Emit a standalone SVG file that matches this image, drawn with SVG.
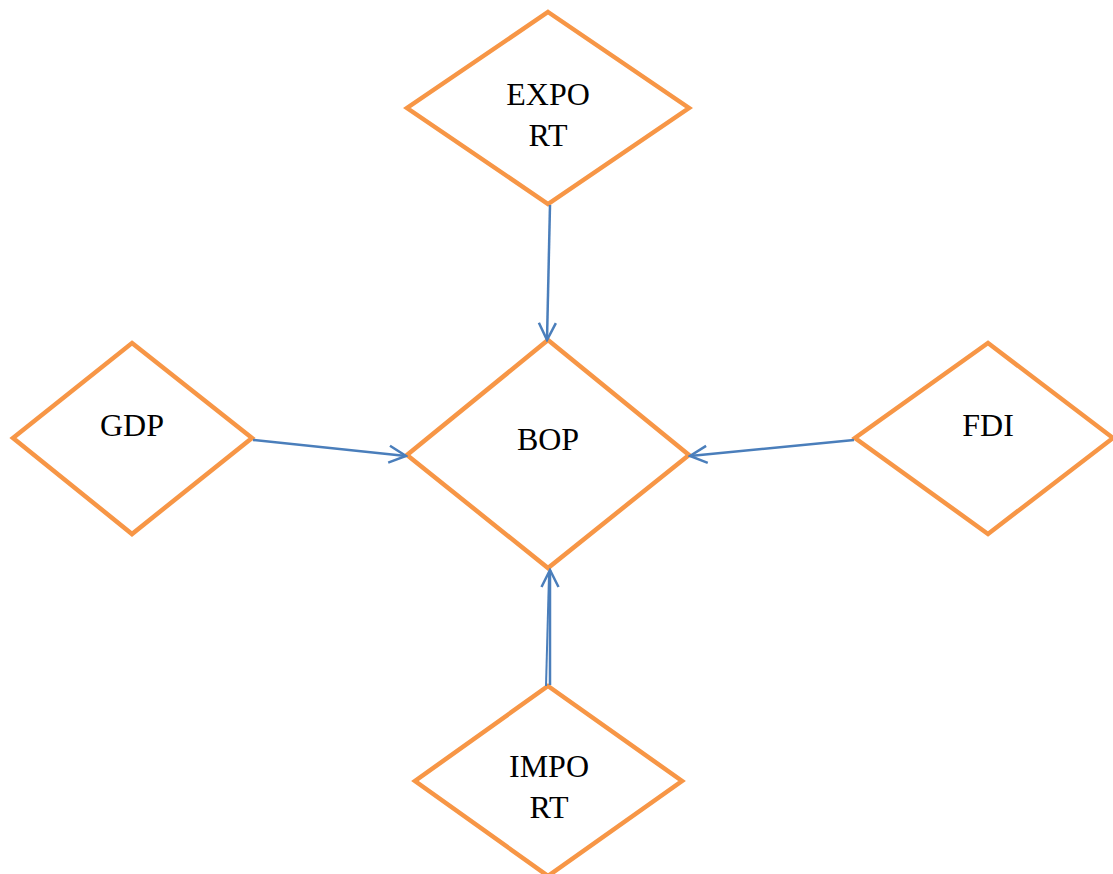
<svg xmlns="http://www.w3.org/2000/svg" width="1113" height="874" viewBox="0 0 1113 874">
  <style>
    .shape { fill: #FFFFFF; stroke: #F79646; stroke-width: 4.5; stroke-linejoin: miter; }
    .label { font-family: "Liberation Serif", "Times New Roman", serif; font-size: 32px; fill: #000000; text-anchor: middle; }
    .link { stroke: #4A7EBB; stroke-width: 2.5; fill: none; marker-end: url(#openArrow); }
  </style>
  <defs>
    <marker id="openArrow" viewBox="0 0 20 20" refX="18" refY="10" markerWidth="20" markerHeight="20" markerUnits="userSpaceOnUse" orient="auto">
      <path d="M1,1.5 L18,10 L1,18.5" fill="none" stroke="#4A7EBB" stroke-width="2.5"/>
    </marker>
  </defs>
  <rect width="1113" height="874" fill="#FFFFFF"/>

  <g id="node-export">
    <polygon class="shape" points="548,12 689,108 548,204 407,108"/>
    <text class="label" x="548" y="105">EXPO</text>
    <text class="label" x="548" y="146">RT</text>
  </g>

  <g id="node-bop">
    <polygon class="shape" points="548,340 689,455 548,568 407,455"/>
    <text class="label" x="548" y="450">BOP</text>
  </g>

  <g id="node-gdp">
    <polygon class="shape" points="132,343 252,438 132,534 13,438"/>
    <text class="label" x="132" y="436">GDP</text>
  </g>

  <g id="node-fdi">
    <polygon class="shape" points="988,343 1113,438 988,534 855,438"/>
    <text class="label" x="988" y="436">FDI</text>
  </g>

  <g id="node-import">
    <polygon class="shape" points="548,686 682,781 548,876 415,781"/>
    <text class="label" x="549" y="777">IMPO</text>
    <text class="label" x="549" y="818">RT</text>
  </g>

  <g id="connectors">
    <line class="link" x1="550" y1="205" x2="547" y2="340"/>
    <line class="link" x1="253" y1="440" x2="406" y2="456"/>
    <line class="link" x1="854" y1="440" x2="690" y2="456"/>
    <line class="link" x1="550" y1="685" x2="550" y2="570"/>
    <line x1="546" y1="686" x2="549" y2="575" stroke="#4A7EBB" stroke-width="2"/>
  </g>
</svg>
